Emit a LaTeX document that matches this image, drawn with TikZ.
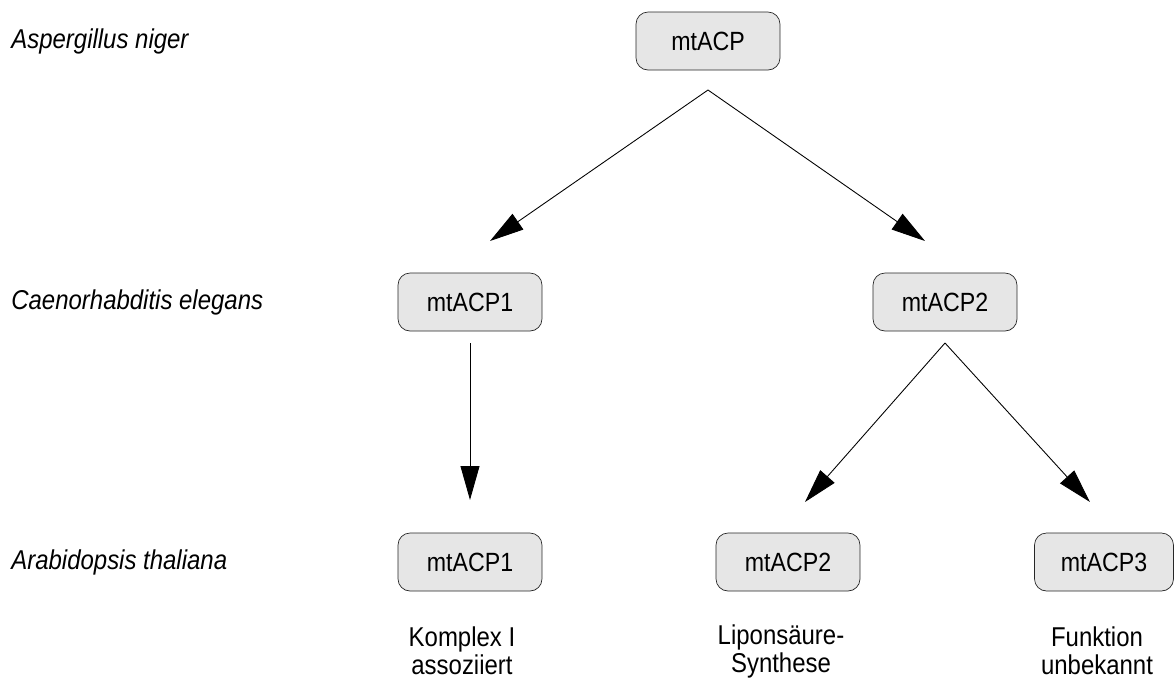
\documentclass[tikz,border=0pt]{standalone}
\usepackage{fontspec}
\setmainfont{Liberation Sans}[FakeStretch=0.88]
\usetikzlibrary{arrows.meta}
\definecolor{boxgray}{RGB}{230,230,230}
\tikzset{
  acpbox/.style={draw=black!85, fill=boxgray, rounded corners=0.24cm,
    minimum width=2.88cm, minimum height=1.16cm, inner sep=0pt,
    font=\fontsize{15}{16}\selectfont},
  species/.style={anchor=west, inner sep=0pt, font=\fontsize{15.5}{16}\selectfont\itshape},
  role/.style={align=center, inner sep=0pt, font=\fontsize{15.5}{16}\selectfont},
  tree/.style={-{Triangle[length=0.68cm, width=0.38cm]}, line width=0.5pt}
}
\begin{document}
\begin{tikzpicture}[x=0.02cm, y=-0.02cm]
      \useasboundingbox (0,0) rectangle (1174,681);
      \draw
        (11,41) node[species] (an){Aspergillus niger}
        (11,302) node[species] (ce){Caenorhabditis elegans}
        (11,562) node[species] (at){Arabidopsis thaliana};
      \draw
        (708,41) node[acpbox] (acp){mtACP}
        (470,302) node[acpbox] (ce1){mtACP1}
        (945,302) node[acpbox] (ce2){mtACP2}
        (470,562) node[acpbox] (at1){mtACP1}
        (788,562) node[acpbox] (at2){mtACP2}
        (1104,562) node[acpbox, minimum width=2.78cm] (at3){mtACP3};
      \draw
        (462,651) node[role] (r1){Komplex I\\assoziiert}
        (781,651) node[role] (r2){Liponsäure-\\Synthese}
        (1097,651) node[role] (r3){Funktion\\unbekannt};
      \coordinate (s0) at (708,90);
      \coordinate (s1) at (470,343);
      \coordinate (s2) at (945,343);
      \coordinate (e1) at (490,241);
      \coordinate (e2) at (925,241);
      \coordinate (e3) at (470,500);
      \coordinate (e4) at (805,502);
      \coordinate (e5) at (1090,502);
      \begin{scope}[tree]
        \draw (s0) to (e1);
        \draw (s0) to (e2);
        \draw (s1) to (e3);
        \draw (s2) to (e4);
        \draw (s2) to (e5);
      \end{scope}
    \end{tikzpicture}
\end{document}
